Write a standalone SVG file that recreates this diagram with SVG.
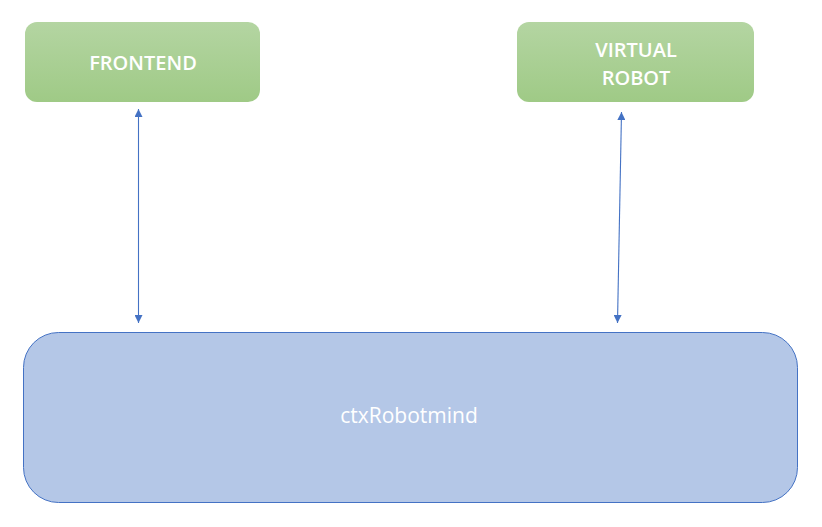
<svg xmlns="http://www.w3.org/2000/svg" width="822" height="527" viewBox="0 0 822 527">
<style>
.lbl{font-family:"Open Sans","Liberation Sans",sans-serif;fill:#ffffff;text-anchor:middle;font-size:20px;font-weight:600}
.big{font-size:21px;font-weight:400}
.conn{stroke:#4472c4;stroke-width:1.1;fill:none;marker-start:url(#ah);marker-end:url(#ah)}
</style>
<defs>
<linearGradient id="g" x1="0" y1="0" x2="0" y2="1">
<stop offset="0" stop-color="#b4d5a2"/>
<stop offset="1" stop-color="#9fca86"/>
</linearGradient>
<marker id="ah" viewBox="0 0 10 10" refX="10" refY="5" markerWidth="8" markerHeight="8" markerUnits="userSpaceOnUse" orient="auto-start-reverse">
<path d="M0,0 L10,5 L0,10 z" fill="#4472c4"/>
</marker>
</defs>
<rect width="822" height="527" fill="#ffffff"/>
<g id="frontend">
<rect x="25" y="22" width="235" height="80" rx="12" fill="url(#g)"/>
<text class="lbl" x="143" y="70">FRONTEND</text>
</g>
<g id="virtual-robot">
<rect x="517" y="22" width="237" height="80" rx="12" fill="url(#g)"/>
<text class="lbl" x="636" y="57">VIRTUAL</text>
<text class="lbl" x="636" y="85">ROBOT</text>
</g>
<g id="ctxRobotmind">
<rect x="23.5" y="332.5" width="774" height="170" rx="35" fill="#b4c7e7" stroke="#4472c4" stroke-width="1"/>
<text class="lbl big" x="409" y="423">ctxRobotmind</text>
</g>
<g id="connectors">
<line class="conn" x1="138.5" y1="109" x2="138.5" y2="323"/>
<line class="conn" x1="621.5" y1="112" x2="617.5" y2="323"/>
</g>
</svg>
